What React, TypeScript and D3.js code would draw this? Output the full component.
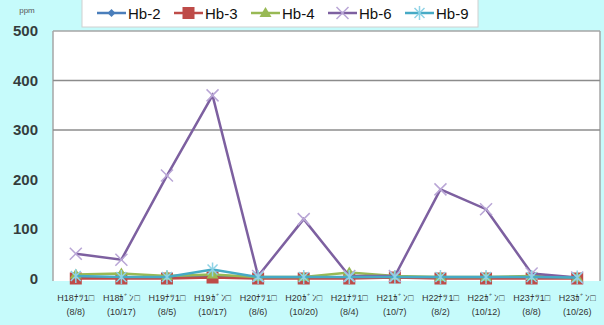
import React from "react";
import * as d3 from "d3";

const categories = [
  "H18ﾅﾂ1□|(8/8)",
  "H18ｶﾞﾝ□|(10/17)",
  "H19ﾅﾂ1□|(8/5)",
  "H19ｶﾞﾝ□|(10/17)",
  "H20ﾅﾂ1□|(8/6)",
  "H20ｶﾞﾝ□|(10/20)",
  "H21ﾅﾂ1□|(8/4)",
  "H21ｶﾞﾝ□|(10/7)",
  "H22ﾅﾂ1□|(8/2)",
  "H22ｶﾞﾝ□|(10/12)",
  "H23ﾅﾂ1□|(8/8)",
  "H23ｶﾞﾝ□|(10/26)",
];
const hb2 = [2, 2, 2, 3, 2, 2, 2, 2, 2, 2, 2, 2];
const hb3 = [0, 0, 0, 2, 0, 0, 0, 2, 0, 0, 0, 0];
const hb4 = [8, 10, 5, 8, 3, 3, 12, 5, 3, 3, 5, 2];
const hb6 = [50, 38, 208, 370, 5, 120, 5, 5, 180, 140, 10, 2];
const hb9 = [5, 3, 3, 18, 3, 3, 3, 3, 3, 3, 3, 2];
const yTicks = [0, 100, 200, 300, 400, 500];
const gridTicks = [300, 400];

const seriesNames = ["Hb-2", "Hb-3", "Hb-4", "Hb-6", "Hb-9"];
const seriesValues = [hb2, hb3, hb4, hb6, hb9];
const colors = ["#4a7ebb", "#be4b48", "#98b954", "#7d60a0", "#46aac5"];
const markerTypes = ["diamond", "square", "triangle", "x", "star"];

function Marker({ type, x, y, color }: { type: string; x: number; y: number; color: string }) {
  if (type === "diamond") {
    return <path d={`M${x},${y - 4}L${x + 4},${y}L${x},${y + 4}L${x - 4},${y}Z`} fill={color} />;
  }
  if (type === "square") {
    return <rect x={x - 6} y={y - 6} width={12} height={12} fill={color} />;
  }
  if (type === "triangle") {
    return <path d={`M${x},${y - 6}L${x + 6},${y + 4}L${x - 6},${y + 4}Z`} fill={color} />;
  }
  if (type === "x") {
    return (
      <path
        d={`M${x - 6},${y - 6}L${x + 6},${y + 6}M${x - 6},${y + 6}L${x + 6},${y - 6}`}
        stroke="#b9a6d6"
        strokeWidth={1.5}
        fill="none"
      />
    );
  }
  return (
    <path
      d={`M${x - 5},${y - 5}L${x + 5},${y + 5}M${x - 5},${y + 5}L${x + 5},${y - 5}M${x},${y - 7}L${x},${y + 7}`}
      stroke="#8fd3e6"
      strokeWidth={1.5}
      fill="none"
    />
  );
}

export default function App() {
  const W = 604;
  const H = 325;
  const left = 53;
  const right = 600;
  const top = 31;
  const y0 = 278.5;

  const x = d3.scaleBand<string>().domain(categories).range([left, right]);
  const y = d3.scaleLinear().domain([0, 500]).range([y0, top]);
  const cx = (c: string) => (x(c) ?? 0) + x.bandwidth() / 2;
  const line = d3
    .line<number>()
    .x((_, i) => cx(categories[i]))
    .y((v) => y(v));

  const font = "'Liberation Sans', Arial, sans-serif";
  const legendX = [97, 174, 251, 328, 405];

  return (
    <svg
      width={W}
      height={H}
      style={{ position: "absolute", left: 0, top: 0, background: "#c6fbfb" }}
      fontFamily={font}
    >
      <rect x={0} y={0} width={W} height={H} fill="#c6fbfb" />
      <rect x={left} y={top} width={right - left} height={281 - top} fill="#ffffff" />
      <line x1={left} x2={right} y1={top} y2={top} stroke="#a6a6a6" strokeWidth={1.5} />
      <line x1={left} x2={left} y1={top} y2={281} stroke="#a6a6a6" strokeWidth={1.5} />
      <line x1={right} x2={right} y1={top} y2={281} stroke="#a6a6a6" strokeWidth={1.5} />
      {gridTicks.map((t) => (
        <line key={t} x1={left} x2={right} y1={y(t)} y2={y(t)} stroke="#8c8c8c" strokeWidth={1.5} />
      ))}
      {yTicks.map((t) => (
        <text key={t} x={38} y={y(t) + 5} textAnchor="end" fontSize={15} fill="#1a1a1a" fontWeight="bold" opacity={0.85}>
          {t}
        </text>
      ))}
      <text x={27} y={13} textAnchor="middle" fontSize={8} fill="#555">ppm</text>

      {seriesValues.map((vals, si) => (
        <g key={si}>
          <path d={line(vals) ?? ""} fill="none" stroke={colors[si]} strokeWidth={2.5} />
          {vals.map((v, i) => (
            <Marker key={i} type={markerTypes[si]} x={cx(categories[i])} y={y(v)} color={colors[si]} />
          ))}
        </g>
      ))}

      {categories.map((c) => {
        const [l1, l2] = c.split("|");
        return (
          <g key={c}>
            <text x={cx(c)} y={301} textAnchor="middle" fontSize={9} fill="#333">{l1}</text>
            <text x={cx(c)} y={315} textAnchor="middle" fontSize={9} fill="#333">{l2}</text>
          </g>
        );
      })}

      <rect x={82} y={-1} width={396} height={28} fill="#ffffff" stroke="#d0d0d0" />
      {seriesNames.map((n, i) => (
        <g key={n}>
          <line x1={legendX[i]} x2={legendX[i] + 29} y1={13} y2={13} stroke={colors[i]} strokeWidth={2.5} />
          <Marker type={markerTypes[i]} x={legendX[i] + 14.5} y={13} color={colors[i]} />
          <text x={legendX[i] + 31} y={19} fontSize={15} fill="#111">{n}</text>
        </g>
      ))}
    </svg>
  );
}
